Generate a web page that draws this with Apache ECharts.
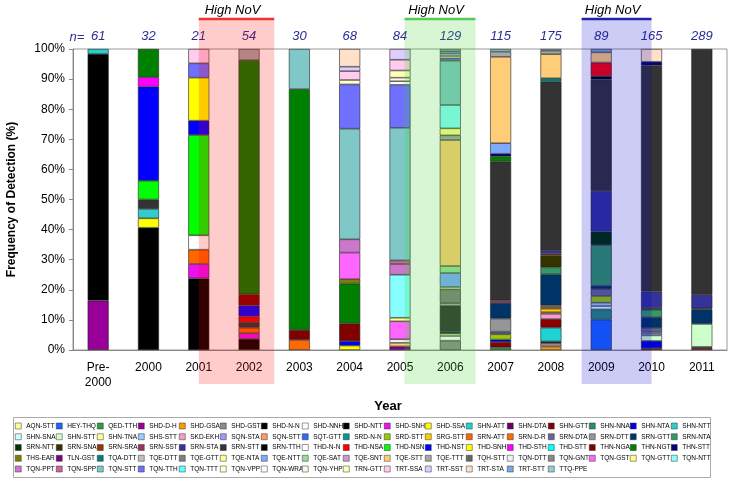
<!DOCTYPE html>
<html><head><meta charset="utf-8">
<script src="https://cdn.jsdelivr.net/npm/echarts/dist/echarts.min.js"></script>
<style>html,body{margin:0;padding:0;background:#fff}#c{width:732px;height:481px}</style>
</head><body><div id="c"></div>
<script>
const FONT = "'Liberation Sans', Arial, sans-serif";

const categories = ['Pre-\n2000','2000','2001','2002','2003','2004','2005','2006','2007','2008','2009','2010','2011'];
const nLabels = [61,32,21,54,30,68,84,129,115,175,89,165,289];

const seriesNames = ['AQN-STT','HEY-THQ','QED-TTH','SHD-D-H','SHD-GSA','SHD-GST','SHD-N-N','SHD-NNH','SHD-NTT','SHD-SNH','SHD-SSA','SHN-ATT','SHN-DTA','SHN-GTT','SHN-NNA','SHN-NTA','SHN-NTT',
 'SHN-SNA','SHN-STT','SHN-TNA','SHS-STT','SKD-EKH','SQN-STA','SQN-STT','SQT-GTT','SRD-N-N','SRD-STT','SRG-STT','SRN-ATT','SRN-D-R','SRN-DTA','SRN-DTT','SRN-GTT','SRN-NTA',
 'SRN-NTT','SRN-SNA','SRN-SRA','SRN-SST','SRN-STA','SRN-STT','SRN-TTH','THD-N-N','THD-NSA','THD-NSN','THD-NST','THD-SNH','THD-STH','THD-STT','THN-NGA','THN-NGT','THN-STT',
 'THS-EAR','TLN-GST','TQA-DTT','TQE-DTT','TQE-GTT','TQE-NTA','TQE-NTT','TQE-SAT','TQE-SNT','TQE-STT','TQE-TTT','TQH-STT','TQN-DTT','TQN-GNT','TQN-GST','TQN-GTT','TQN-NTT',
 'TQN-PPT','TQN-SPP','TQN-STT','TQN-TTH','TQN-TTT','TQN-VPP','TQN-WRA','TQN-YHP','TRN-GTT','TRT-SSA','TRT-SST','TRT-STA','TRT-STT','TTQ-PPE'];

const seriesColors = ['#ffff99','#1a66ff','#2e9e3e','#990099','#ff9900','#8c8c8c','#000000','#ffffff','#000000','#ee11ee','#ffff00','#1fd3d3','#660066','#880000','#2a8a7a','#0000e0','#33cccc',
 '#ccffff','#ccffcc','#ffff99','#99ccff','#ff99cc','#9999ff','#ff9966','#3366ff','#009999','#99cc00','#ffcc00','#ff6600','#ff6a00','#666699','#969696','#003366','#339966',
 '#003300','#333300','#993300','#993366','#333399','#333333','#000000','#ffffff','#ff0000','#00ff00','#0000ff','#ffff00','#ff00ff','#00ffff','#800000','#008000','#000080',
 '#808000','#800080','#008080','#c0c0c0','#808080','#ffff99','#7faaff','#99dd99','#cc99cc','#ffcc77','#a6a6a6','#666666','#f2f2f2','#8a8a8a','#ff66ff','#ffff88','#88ffff',
 '#cc77cc','#cc6699','#80c8c8','#7070ff','#66ffff','#ffffcc','#ffffff','#fff5e5','#ffffbb','#ffccee','#e0ccff','#ffe0c8','#7fa8dd','#99cccc'];

// counts per year, bottom to top
const stackPre2000 = [['SHD-D-H',10],['SHD-N-N',50],['SHN-ATT',1]];
const stack2000 = [['SHD-NTT',13],['SHD-SSA',1],['SHN-NTT',1],['SRN-STT',1],['THD-NSN',2],['THD-NST',10],['THD-STH',1],['THN-NGT',3]];
const stack2001 = [['SHD-N-N',5],['SHD-SNH',1],['SRN-ATT',1],['THD-N-N',1],['THD-NSN',7],['THD-NST',1],['THD-SNH',3],['TQN-TTH',1],['TRT-SSA',1]];
const stack2002 = [['SHD-N-N',2],['SHD-SNH',1],['SRN-ATT',1],['SRN-STT',1],['THD-NSA',1],['THD-NST',2],['THN-NGA',2],['THN-NGT',42],['TQE-TTT',2]];
const stack2003 = [['SRN-D-R',1],['THN-NGA',1],['THN-NGT',24],['TQN-STT',4]];
const stack2004 = [['SHD-SSA',1],['THD-NST',1],['THN-NGA',4],['THN-NGT',9],['THS-EAR',1],['TQN-GST',6],['TQN-PPT',3],['TQN-STT',25],['TQN-TTH',10],['TQN-VPP',1],['TRT-SSA',2],['TRT-SST',1],['TRT-STA',4]];
const stack2005 = [['TLN-GST',1],['TQE-STT',1],['TQN-DTT',1],['TQN-GST',5],['TQN-GTT',1],['TQN-NTT',12],['TQN-PPT',3],['TQN-SPP',1],['TQN-STT',37],['TQN-TTH',12],['TQN-WRA',1],['TQN-YHP',1],['TRN-GTT',2],['TRT-SSA',3],['TRT-SST',3]];
const stack2006 = [['SHD-GST',4],['SHD-NNH',2],['SHN-TNA',1],['SRN-GTT',1],['SRN-STT',11],['TQE-DTT',1],['TQE-GTT',6],['TQE-NTA',1],['TQE-NTT',6],['TQE-SAT',3],['TQE-STT',54],['TQE-TTT',2],['TQN-GTT',3],['TQN-NTT',10],['TQN-STT',19],['TQN-TTH',1],['TRN-GTT',1],['TRT-SST',1],['TRT-STT',1],['TTQ-PPE',1]];
const stack2007 = [['QED-TTH',1],['SHN-GTT',2],['SHN-NTA',1],['SRD-STT',2],['SRN-DTA',1],['SRN-DTT',5],['SRN-GTT',6],['SRN-SST',1],['SRN-STT',53],['THN-NGT',2],['THN-STT',1],['TQE-NTT',4],['TQE-STT',33],['TQE-TTT',2],['TQN-STT',1]];
const stack2008 = [['SHD-GSA',2],['SHD-GST',2],['SHD-N-N',1],['SHN-ATT',8],['SHN-GTT',5],['SKD-EKH',3],['SQN-STT',1],['SRG-STT',2],['SRN-ATT',1],['SRN-DTT',1],['SRN-GTT',18],['SRN-NTA',4],['SRN-SNA',7],['SRN-SRA',1],['SRN-STA',2],['SRN-STT',98],['TQA-DTT',2],['TQE-STT',14],['TQE-TTT',2],['TQN-STT',1]];
const stack2009 = [['HEY-THQ',9],['SHN-NNA',3],['SHN-SNA',1],['SHS-STT',1],['SRD-STT',2],['SRN-DTA',2],['SRN-GTT',1],['SRN-NTA',12],['SRN-NTT',4],['SRN-STA',12],['SRN-STT',33],['SRN-TTH',1],['THD-NSA',4],['TQE-STT',3],['TRT-STT',1]];
const stack2010 = [['SHN-GTT',1],['SHN-NTA',4],['SHN-STT',3],['SHS-STT',1],['SQN-STA',1],['SRN-DTA',2],['SRN-GTT',6],['SRN-NTA',4],['SRN-NTT',1],['SRN-STA',9],['SRN-STT',124],['THN-STT',2],['TRT-STA',7]];
const stack2011 = [['SHN-GTT',2],['SHN-NNA',1],['SHN-STT',22],['SRN-GTT',14],['SRN-NTT',1],['SRN-STA',13],['SRN-STT',236]];

const stacks = [stackPre2000,stack2000,stack2001,stack2002,stack2003,stack2004,stack2005,stack2006,stack2007,stack2008,stack2009,stack2010,stack2011];

const chart = echarts.init(document.getElementById('c'), null, {renderer:'canvas'});

const series = seriesNames.map((name, k) => ({
  name: name,
  type: 'bar',
  stack: 'total',
  barWidth: 21,
  color: seriesColors[k],
  itemStyle: {color: seriesColors[k], borderColor: '#222', borderWidth: 0.6},
  emphasis: {disabled: true},
  data: categories.map((c, i) => {
    const hit = stacks[i].find(s => s[0] === name);
    return hit ? hit[1] / nLabels[i] * 100 : '-';
  })
}));

// one legend entry per component so the grid of entries is regular
const PER_ROW = 17;
const legends = seriesNames.map((name, k) => ({
  data: [name],
  left: 15 + (k % PER_ROW) * 41,
  top: 422 + Math.floor(k / PER_ROW) * 10.75,
  orient: 'horizontal', itemWidth: 6, itemHeight: 6, icon: 'rect', padding: 0,
  selectedMode: false,
  itemStyle: {borderWidth: 0.5, borderColor: '#333'},
  textStyle: {fontSize: 6.5, lineHeight: 8, color: '#000', fontFamily: FONT}
}));

chart.setOption({
  animation: false,
  textStyle: {fontFamily: FONT},
  grid: {left: 73, right: 5, top: 49, bottom: 131, show: true, borderColor: '#999', borderWidth: 1, containLabel: false, outerBoundsMode: 'none'},
  legend: legends,
  xAxis: [
    {type: 'category', data: categories,
     axisLine: {lineStyle: {color: '#888'}},
     axisTick: {length: 4, lineStyle: {color: '#888'}},
     axisLabel: {color: '#000', fontSize: 12, margin: 10, lineHeight: 15, fontFamily: FONT},
     name: 'Year', nameLocation: 'middle', nameGap: 50,
     nameTextStyle: {fontWeight: 'bold', fontSize: 13, color: '#000', padding: [0, 24, 0, 0], fontFamily: FONT}},
    {type: 'category', data: nLabels.map(String), position: 'top',
     axisLine: {show: false}, axisTick: {show: false},
     axisLabel: {color: '#2b2b9b', fontStyle: 'italic', fontSize: 13, margin: 6, fontFamily: FONT}}
  ],
  yAxis: {type: 'value', min: 0, max: 100, interval: 10,
    axisLine: {show: true, lineStyle: {color: '#888'}},
    axisTick: {show: true, length: 4, lineStyle: {color: '#888'}},
    splitLine: {show: false},
    axisLabel: {formatter: '{value}%', color: '#000', fontSize: 12, margin: 8, fontFamily: FONT},
    name: 'Frequency of Detection (%)', nameLocation: 'middle', nameGap: 55, nameRotate: 90,
    nameTextStyle: {fontWeight: 'bold', fontSize: 12, color: '#000', fontFamily: FONT}},
  series: series
});

// annotation overlays positioned from the category axis
const px = i => chart.convertToPixel({xAxisIndex: 0}, i);
const band = px(1) - px(0);
const regions = [
  {x0: px(2), x1: px(3) + 0.5 * band, fill: 'rgba(255,0,0,0.2)', line: '#e33'},
  {x0: px(6) + 0.09 * band, x1: px(7) + 0.5 * band, fill: 'rgba(60,210,40,0.2)', line: '#55cc55'},
  {x0: px(10) - 0.39 * band, x1: px(11), fill: 'rgba(0,0,200,0.2)', line: '#2222aa'}
];
const graphics = [];
regions.forEach(r => {
  graphics.push({type: 'rect', z: 100, silent: true, shape: {x: r.x0, y: 20, width: r.x1 - r.x0, height: 364}, style: {fill: r.fill}});
  graphics.push({type: 'line', z: 101, silent: true, shape: {x1: r.x0, y1: 19, x2: r.x1, y2: 19}, style: {stroke: r.line, lineWidth: 2.5}});
  graphics.push({type: 'text', z: 101, silent: true, x: (r.x0 + r.x1) / 2 - 4, y: 10,
    style: {text: 'High NoV', fill: '#000', font: 'italic 13px ' + FONT, align: 'center', verticalAlign: 'middle'}});
});
graphics.push({type: 'text', z: 101, silent: true, x: 77, y: 37,
  style: {text: 'n=', fill: '#2b2b9b', font: 'italic 13px ' + FONT, align: 'center', verticalAlign: 'middle'}});
// legend frame
graphics.push({type: 'rect', z: 0, silent: true, shape: {x: 13.5, y: 417.5, width: 697, height: 60}, style: {fill: 'none', stroke: '#aaa', lineWidth: 1}});
chart.setOption({graphic: graphics});
</script></body></html>
